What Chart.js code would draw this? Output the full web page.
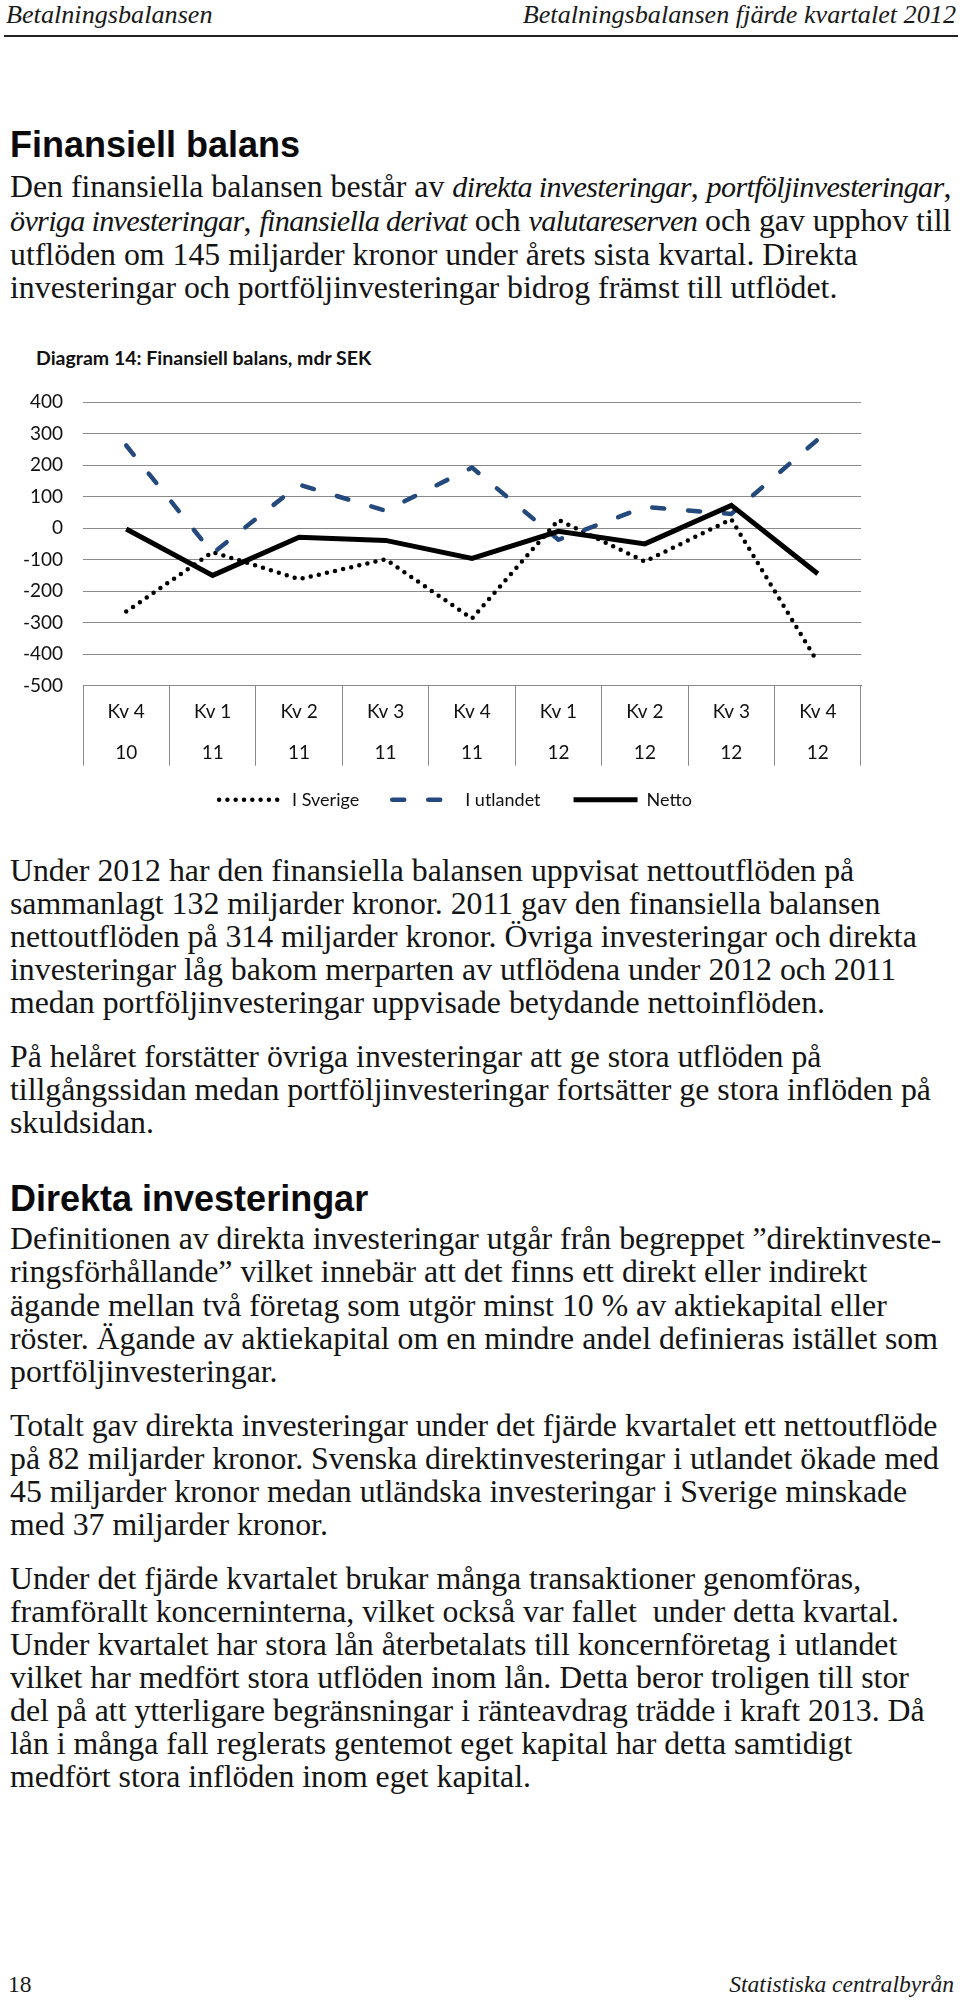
<!DOCTYPE html>
<html lang="sv">
<head>
<meta charset="utf-8">
<script src="https://cdn.jsdelivr.net/npm/chart.js@4.4.1/dist/chart.umd.min.js"></script>
<style>
  html, body { margin: 0; padding: 0; background: #fff; }
  #page { position: relative; width: 960px; height: 2000px; background: #fff; overflow: hidden; color: #111; }
  .txt { position: absolute; left: 10px; white-space: nowrap; font-family: "Liberation Serif", serif; font-size: 31.8px; line-height: 33.15px; color: #141414; }
  .txt i { font-size: 0.95em; letter-spacing: -0.7px; }
  .h { position: absolute; left: 10px; white-space: nowrap; font-family: "Liberation Sans", Arial, sans-serif; font-weight: bold; font-size: 36px; line-height: 36px; color: #0a0a0a; }
  .hdr { position: absolute; top: 2px; white-space: nowrap; font-family: "Liberation Serif", serif; font-style: italic; font-size: 26.2px; line-height: 26px; color: #1a1a1a; }
  .ftr { position: absolute; top: 1972px; white-space: nowrap; font-family: "Liberation Serif", serif; font-size: 23.6px; line-height: 25px; color: #1a1a1a; }
  #rule { position: absolute; left: 4px; width: 954px; top: 35px; height: 2px; background: #222; }
  #ctitle { position: absolute; left: 36px; top: 346px; white-space: nowrap; font-family: Lato, sans-serif; font-weight: bold; font-size: 19.5px; line-height: 23px; color: #111; }
  #chartbox { position: absolute; left: 0; top: 380px; width: 960px; height: 449px; }
</style>
</head>
<body>
<div id="page">
  <div class="hdr" style="left:6px;">Betalningsbalansen</div>
  <div class="hdr" style="right:4px;">Betalningsbalansen fjärde kvartalet 2012</div>
  <div id="rule"></div>

  <div class="h" style="top:126.5px;">Finansiell balans</div>
  <div class="txt" style="top:169.7px;">Den finansiella balansen består av <i>direkta investeringar</i>, <i>portföljinvesteringar</i>,<br><i>övriga investeringar</i>, <i>finansiella derivat</i> och <i>valutareserven</i> och gav upphov till<br>utflöden om 145 miljarder kronor under årets sista kvartal. Direkta<br>investeringar och portföljinvesteringar bidrog främst till utflödet.</div>

  <div id="ctitle">Diagram 14: Finansiell balans, mdr SEK</div>
  <div id="chartbox"><canvas id="chart" width="960" height="449"></canvas></div>

  <div class="txt" style="top:853.7px;">Under 2012 har den finansiella balansen uppvisat nettoutflöden på<br>sammanlagt 132 miljarder kronor. 2011 gav den finansiella balansen<br>nettoutflöden på 314 miljarder kronor. Övriga investeringar och direkta<br>investeringar låg bakom merparten av utflödena under 2012 och 2011<br>medan portföljinvesteringar uppvisade betydande nettoinflöden.</div>
  <div class="txt" style="top:1040px;">På helåret forstätter övriga investeringar att ge stora utflöden på<br>tillgångssidan medan portföljinvesteringar fortsätter ge stora inflöden på<br>skuldsidan.</div>

  <div class="h" style="top:1181px;">Direkta investeringar</div>
  <div class="txt" style="top:1222.3px;">Definitionen av direkta investeringar utgår från begreppet ”direktinveste-<br>ringsförhållande” vilket innebär att det finns ett direkt eller indirekt<br>ägande mellan två företag som utgör minst 10 % av aktiekapital eller<br>röster. Ägande av aktiekapital om en mindre andel definieras istället som<br>portföljinvesteringar.</div>
  <div class="txt" style="top:1408.5px;">Totalt gav direkta investeringar under det fjärde kvartalet ett nettoutflöde<br>på 82 miljarder kronor. Svenska direktinvesteringar i utlandet ökade med<br>45 miljarder kronor medan utländska investeringar i Sverige minskade<br>med 37 miljarder kronor.</div>
  <div class="txt" style="top:1561.5px;">Under det fjärde kvartalet brukar många transaktioner genomföras,<br>framförallt koncerninterna, vilket också var fallet &nbsp;under detta kvartal.<br>Under kvartalet har stora lån återbetalats till koncernföretag i utlandet<br>vilket har medfört stora utflöden inom lån. Detta beror troligen till stor<br>del på att ytterligare begränsningar i ränteavdrag trädde i kraft 2013. Då<br>lån i många fall reglerats gentemot eget kapital har detta samtidigt<br>medfört stora inflöden inom eget kapital.</div>

  <div class="ftr" style="left:8px;">18</div>
  <div class="ftr" style="right:6px; font-style:italic;">Statistiska centralbyrån</div>
</div>

<script>
// ---- Data (mdr SEK) ----
const quarters = ["Kv 4", "Kv 1", "Kv 2", "Kv 3", "Kv 4", "Kv 1", "Kv 2", "Kv 3", "Kv 4"];
const years    = ["10", "11", "11", "11", "11", "12", "12", "12", "12"];
const iSverige  = [-265, -76, -162, -99, -287, 26, -106, 28, -426];
const iUtlandet = [262, -80, 138, 55, 192, -37, 67, 45, 281];
const netto     = [-3, -150, -29, -39, -96, -10, -50, 72, -145];
const seriesNames = ["I Sverige", "I utlandet", "Netto"];
const yMin = -500, yMax = 400, yStep = 100;

const labels = quarters.map((q, i) => [q, years[i]]);
const gridGray = '#8a8a8a';

// moves the legend row to where the reference has it
const legendNudge = {
  id: 'legendNudge',
  afterLayout(chart) {
    const l = chart.legend;
    if (!l) return;
    l.left += 15; l.right += 15;
    l.top -= 8; l.bottom -= 8;
  }
};

new Chart(document.getElementById('chart').getContext('2d'), {
  type: 'line',
  plugins: [legendNudge],
  data: {
    labels: labels,
    datasets: [
      { label: seriesNames[0], data: iSverige, borderColor: '#000', backgroundColor: '#000',
        borderWidth: 4.5, borderDash: [0, 8.3], borderCapStyle: 'round', borderJoinStyle: 'round',
        pointRadius: 0, tension: 0, fill: false, order: 2 },
      { label: seriesNames[1], data: iUtlandet, borderColor: '#24497c', backgroundColor: '#24497c',
        borderWidth: 4.5, borderDash: [12, 24], borderCapStyle: 'round', borderJoinStyle: 'round',
        pointRadius: 0, tension: 0, fill: false, order: 1 },
      { label: seriesNames[2], data: netto, borderColor: '#000', backgroundColor: '#000',
        borderWidth: 5, borderCapStyle: 'butt', borderJoinStyle: 'miter',
        pointRadius: 0, tension: 0, fill: false, order: 0 }
    ]
  },
  options: {
    responsive: false,
    animation: false,
    devicePixelRatio: 1,
    layout: { padding: { left: 20, right: 99, top: 22, bottom: 2.3 } },
    plugins: {
      tooltip: { enabled: false },
      legend: {
        position: 'bottom',
        labels: {
          usePointStyle: true,
          pointStyle: 'line',
          pointStyleWidth: 64,
          padding: 33,
          color: '#111',
          font: { family: 'Lato', size: 18 },
          generateLabels: (chart) => chart.data.datasets.map((ds, i) => ({
            text: ds.label,
            fillStyle: ds.borderColor,
            strokeStyle: ds.borderColor,
            fontColor: '#111',
            lineWidth: ds.borderWidth,
            lineDash: ds.borderDash || [],
            lineDashOffset: 0,
            lineCap: ds.borderCapStyle || 'butt',
            lineJoin: 'round',
            pointStyle: 'line',
            rotation: 0,
            hidden: false,
            datasetIndex: i
          }))
        }
      }
    },
    scales: {
      x: {
        offset: true,
        grid: { offset: true, drawOnChartArea: false, drawTicks: true, tickLength: 80, color: gridGray, lineWidth: 1 },
        border: { display: true, color: gridGray, width: 1 },
        ticks: { font: { family: 'Lato', size: 19, lineHeight: '41px' }, color: '#111', padding: -74.5,
                 maxRotation: 0, minRotation: 0, autoSkip: false },
        afterFit: (s) => { s.height = 80; }
      },
      y: {
        min: yMin, max: yMax,
        ticks: { stepSize: yStep, padding: 0, color: '#111', font: { family: 'Lato', size: 19 },
                 callback: (v) => String(v) },
        grid: { color: gridGray, lineWidth: 1, drawTicks: true, tickLength: 20, tickColor: 'rgba(0,0,0,0)' },
        border: { display: false },
        afterFit: (s) => { s.width = 63; }
      }
    }
  }
});
</script>
</body>
</html>
